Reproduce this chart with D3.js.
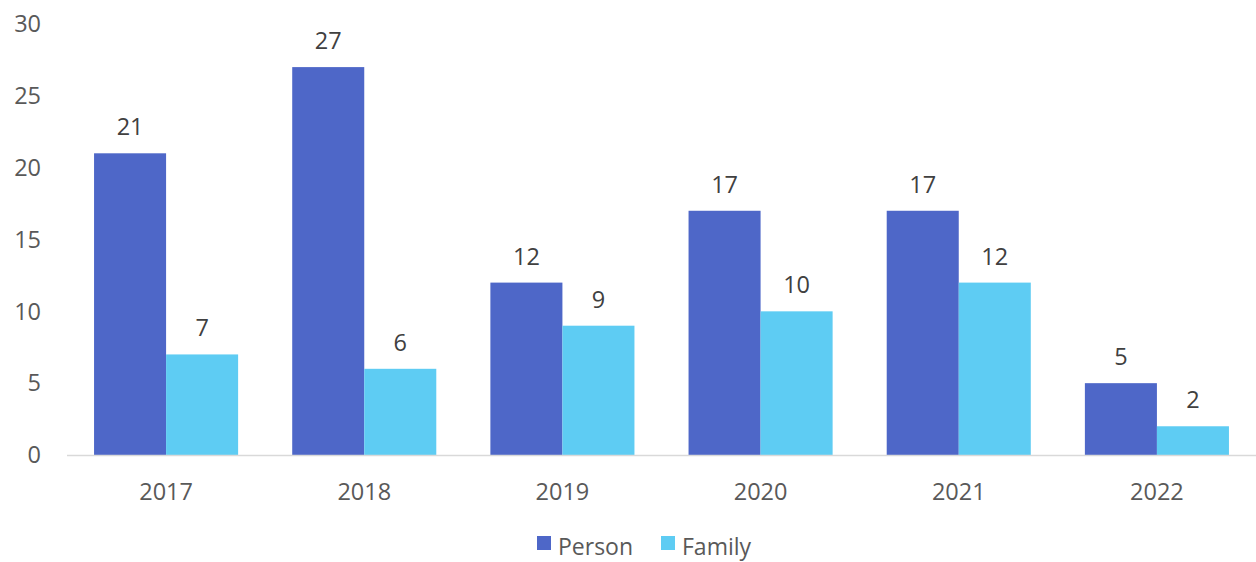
<!DOCTYPE html>
<html lang="en">
<head>
<meta charset="utf-8">
<title>Person / Family</title>
<script src="https://cdnjs.cloudflare.com/ajax/libs/d3/7.8.5/d3.min.js"></script>
<style>
body { margin: 0; background: #fff; overflow: hidden; }
text { font-family: "Open Sans", "Noto Sans", sans-serif; }
.tick-label { font-size: 23.5px; fill: #595959; }
.bar-label { font-size: 23.5px; fill: #404040; }
.legend-text { font-size: 23px; fill: #595959; }
</style>
</head>
<body>
<div id="chart"></div>
<script>

const years = ["2017", "2018", "2019", "2020", "2021", "2022"];
const person = [21, 27, 12, 17, 17, 5];
const family = [7, 6, 9, 10, 12, 2];
const yTicks = [0, 5, 10, 15, 20, 25, 30];

const series = [
   { name: "Person", values: person, color: "#4E67C8" },
   { name: "Family", values: family, color: "#5ECCF3" }
];

const w = 1256;
const h = 562;
const plotLeft = 67, plotRight = 1256, plotTop = 24, plotBottom = 455;

const svg = d3.select("#chart")
   .append("svg")
   .attr("width", w)
   .attr("height", h)
   .style("display", "block");

const x = d3.scaleBand()
   .domain(years)
   .range([plotLeft, plotRight])
   .paddingInner(0.273)
   .paddingOuter(0.1365);

const xSub = d3.scaleBand()
   .domain(series.map(s => s.name))
   .range([0, x.bandwidth()]);

const y = d3.scaleLinear()
   .domain([0, 30])
   .range([plotBottom, plotTop]);

// y tick labels (no axis line in the original)
svg.selectAll(".ytick")
   .data(yTicks)
   .enter()
   .append("text")
   .attr("class", "tick-label")
   .attr("x", 41)
   .attr("y", d => y(d))
   .attr("dy", "0.35em")
   .attr("text-anchor", "end")
   .text(d => d);

// bars
series.forEach(s => {
   const g = svg.append("g");
   g.selectAll("rect")
      .data(years)
      .enter()
      .append("rect")
      .attr("x", (d, i) => x(d) + xSub(s.name))
      .attr("y", (d, i) => y(s.values[i]))
      .attr("width", xSub.bandwidth())
      .attr("height", (d, i) => y(0) - y(s.values[i]))
      .attr("fill", s.color);

   g.selectAll("text")
      .data(years)
      .enter()
      .append("text")
      .attr("class", "bar-label")
      .attr("x", (d, i) => x(d) + xSub(s.name) + xSub.bandwidth() / 2)
      .attr("y", (d, i) => y(s.values[i]) - 18)
      .attr("text-anchor", "middle")
      .text((d, i) => s.values[i]);
});

// x axis line
svg.append("line")
   .attr("x1", plotLeft)
   .attr("x2", plotRight)
   .attr("y1", y(0) + 0.5)
   .attr("y2", y(0) + 0.5)
   .attr("stroke", "#D9D9D9")
   .attr("stroke-width", 1.5);

svg.selectAll(".xlabel")
   .data(years)
   .enter()
   .append("text")
   .attr("class", "tick-label")
   .attr("x", d => x(d) + x.bandwidth() / 2)
   .attr("y", 500)
   .attr("text-anchor", "middle")
   .text(d => d);

// legend
const legendX = [537, 661];
const legend = svg.selectAll(".legend")
   .data(series)
   .enter()
   .append("g")
   .attr("transform", (d, i) => "translate(" + legendX[i] + ",536)");

legend.append("rect")
   .attr("width", 14)
   .attr("height", 14)
   .attr("fill", d => d.color);

legend.append("text")
   .attr("class", "legend-text")
   .attr("x", 21)
   .attr("y", 19)
   .text(d => d.name);

</script>
</body>
</html>
